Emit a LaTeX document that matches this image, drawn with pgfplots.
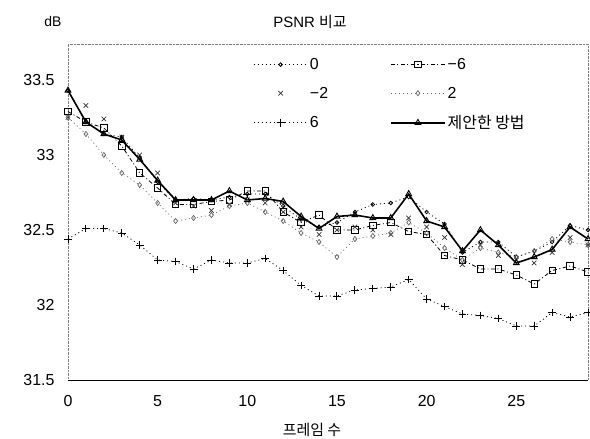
\documentclass[border=0pt]{standalone}
\usepackage{fontspec}
\setmainfont{Liberation Sans}
\newfontfamily\kr{Noto Sans CJK KR}
\usepackage{pgfplots}
\pgfplotsset{compat=1.18}

\begin{document}
\begin{tikzpicture}
  \begin{axis}[
      at={(0,0)}, anchor=south west,
      scale only axis,
      width=520bp, height=336bp,
      xmin=0, xmax=29, ymin=31.5, ymax=33.74,
      xtick={0,5,10,15,20,25},
      ytick={31.5,32,32.5,33,33.5},
      major tick length=0pt,
      axis line style={gray, densely dotted},
      /pgf/number format/assume math mode=true,
      tick label style={font=\fontsize{16}{16}\selectfont},
      yticklabel style={xshift=-10bp},
      xticklabel style={yshift=-12bp},
      legend columns=2,
      legend cell align=left,
      legend style={
        at={(rel axis cs:0.35,0.97)}, anchor=north west,
        draw=none, fill=none,
        font=\fontsize{16}{16}\selectfont,
        row sep=12bp,
        /tikz/every even column/.append style={column sep=60bp}
      },
      legend image code/.code={
        \draw[mark repeat=2,mark phase=2] plot coordinates {(0bp,0bp) (27bp,0bp) (54bp,0bp)};
      },
      clip=false
    ]

% 0
\addplot[black, line width=0.8pt, dash pattern=on 1pt off 3pt, mark=o, mark size=1.8pt, mark options={solid, line width=0.8pt}] coordinates {
  (0,33.43) (1,33.22) (2,33.14) (3,33.12) (4,32.98) (5,32.82) (6,32.70) (7,32.71)
  (8,32.70) (9,32.72) (10,32.74) (11,32.74) (12,32.66) (13,32.57) (14,32.52)
  (15,32.55) (16,32.62) (17,32.67) (18,32.68) (19,32.72) (20,32.62) (21,32.54)
  (22,32.35) (23,32.42) (24,32.42) (25,32.32) (26,32.36) (27,32.42) (28,32.53) (29,32.50)
};
\addlegendentry{0}

% -6
\addplot[black, line width=0.8pt, dash pattern=on 4pt off 2.5pt on 1pt off 2.5pt, mark=square, mark size=3.2pt, mark options={solid, line width=0.9pt, fill=white}] coordinates {
  (0,33.29) (1,33.22) (2,33.18) (3,33.06) (4,32.88) (5,32.78) (6,32.67) (7,32.67)
  (8,32.69) (9,32.70) (10,32.76) (11,32.76) (12,32.62) (13,32.55) (14,32.60)
  (15,32.50) (16,32.50) (17,32.53) (18,32.55) (19,32.49) (20,32.47) (21,32.33)
  (22,32.30) (23,32.24) (24,32.24) (25,32.20) (26,32.14) (27,32.23) (28,32.26) (29,32.22)
};
\addlegendentry{−6}

% -2
\addplot[black!80, only marks, mark=x, mark size=3.2pt, mark options={line width=0.7pt}] coordinates {
  (0,33.25) (1,33.33) (2,33.24) (3,33.12) (4,33.00) (5,32.88) (6,32.68) (7,32.66)
  (8,32.63) (9,32.67) (10,32.70) (11,32.68) (12,32.62) (13,32.52) (14,32.47)
  (15,32.50) (16,32.52) (17,32.50) (18,32.47) (19,32.58) (20,32.52) (21,32.45)
  (22,32.27) (23,32.40) (24,32.33) (25,32.30) (26,32.28) (27,32.35) (28,32.45) (29,32.40)
};
\addlegendentry{−2}

% 2
\addplot[black!60, line width=0.7pt, dash pattern=on 1pt off 3pt, mark=diamond, mark size=2.6pt, mark options={solid}] coordinates {
  (0,33.25) (1,33.14) (2,33.00) (3,32.88) (4,32.80) (5,32.68) (6,32.56) (7,32.58)
  (8,32.60) (9,32.66) (10,32.68) (11,32.62) (12,32.56) (13,32.48) (14,32.42)
  (15,32.32) (16,32.44) (17,32.46) (18,32.48) (19,32.55) (20,32.48) (21,32.38)
  (22,32.30) (23,32.38) (24,32.35) (25,32.32) (26,32.36) (27,32.44) (28,32.42) (29,32.40)
};
\addlegendentry{2}

% 6
\addplot[black, line width=0.8pt, dash pattern=on 1pt off 3pt, mark=+, mark size=4pt, mark options={solid, line width=1pt}] coordinates {
  (0,32.44) (1,32.51) (2,32.51) (3,32.48) (4,32.40) (5,32.30) (6,32.29) (7,32.24)
  (8,32.30) (9,32.28) (10,32.28) (11,32.31) (12,32.23) (13,32.13) (14,32.06)
  (15,32.06) (16,32.10) (17,32.11) (18,32.12) (19,32.17) (20,32.04) (21,31.99)
  (22,31.94) (23,31.93) (24,31.91) (25,31.86) (26,31.86) (27,31.95) (28,31.92) (29,31.95)
};
\addlegendentry{6}

% proposed
\addplot[black, line width=1.6pt, mark=triangle, mark size=3.4pt, mark options={solid, line width=0.9pt, fill=white}] coordinates {
  (0,33.43) (1,33.22) (2,33.14) (3,33.10) (4,32.97) (5,32.83) (6,32.70) (7,32.70)
  (8,32.70) (9,32.76) (10,32.70) (11,32.71) (12,32.69) (13,32.59) (14,32.51)
  (15,32.59) (16,32.60) (17,32.58) (18,32.58) (19,32.74) (20,32.56) (21,32.52)
  (22,32.36) (23,32.50) (24,32.40) (25,32.28) (26,32.32) (27,32.37) (28,32.52) (29,32.44)
};
\addlegendentry{\kr 제안한 방법}

    \draw[black, line width=1pt] (rel axis cs:0,0) -- (rel axis cs:1,0);
  \end{axis}
  \node[font=\fontsize{14}{14}\selectfont] at (-15bp,358bp) {dB};
  \node[font=\fontsize{15}{15}\selectfont] at (242bp,358bp) {PSNR \kr 비교};
  \node[font=\fontsize{15}{15}\selectfont\kr] at (244bp,-50bp) {프레임 수};
  \pgfresetboundingbox
  \path (-68bp,-59bp) rectangle (522bp,380bp);
\end{tikzpicture}
\end{document}
